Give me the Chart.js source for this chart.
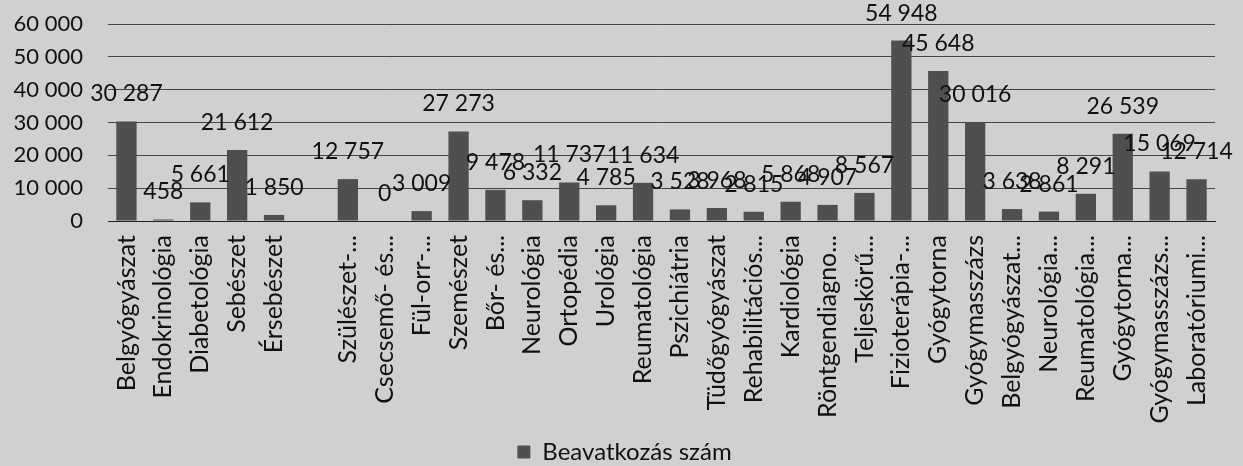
<!DOCTYPE html>
<html>
<head>
<meta charset="utf-8">
<script src="https://cdn.jsdelivr.net/npm/chart.js@4/dist/chart.umd.min.js"></script>
<style>
  html, body { margin: 0; padding: 0; background: #d0d0d0; }
  #wrap { width: 1243px; height: 466px; }
</style>
</head>
<body>
<div id="wrap"><canvas id="chart" width="1243" height="466"></canvas></div>
<script>
// kategóriák (az üres hely is egy kategória az eredetiben)
const categories = [
    "Belgyógyászat", "Endokrinológia", "Diabetológia", "Sebészet", "Érsebészet", "",
    "Szülészet-...", "Csecsemő- és...", "Fül-orr-...", "Szemészet", "Bőr- és...",
    "Neurológia", "Ortopédia", "Urológia", "Reumatológia", "Pszichiátria",
    "Tüdőgyógyászat", "Rehabilitációs...", "Kardiológia", "Röntgendiagno...", "Teljeskörű...",
    "Fizioterápia-...", "Gyógytorna", "Gyógymasszázs", "Belgyógyászat...", "Neurológia...",
    "Reumatológia...", "Gyógytorna...", "Gyógymasszázs...", "Laboratóriumi..."
];
const beavatkozasSzam = [
    30287, 458, 5661, 21612, 1850, null,
    12757, 0, 3009, 27273, 9478,
    6332, 11737, 4785, 11634, 3528,
    3968, 2815, 5868, 4907, 8567,
    54948, 45648, 30016, 3638, 2861,
    8291, 26539, 15069, 12714
];
const seriesName = "Beavatkozás szám";
const yTicks = [0, 10000, 20000, 30000, 40000, 50000, 60000];

const FONT = "Lato, 'Open Sans', sans-serif";

function formatNum(v) {
    return String(v).replace(/\B(?=(\d{3})+(?!\d))/g, " ");
}

// értékcímkék a oszlopok fölött
const valueLabels = {
    id: "valueLabels",
    afterDatasetsDraw(chart) {
        const ctx = chart.ctx;
        const meta = chart.getDatasetMeta(0);
        ctx.save();
        ctx.font = "23px " + FONT;
        ctx.fillStyle = "#111";
        ctx.textAlign = "center";
        ctx.textBaseline = "bottom";
        meta.data.forEach((bar, i) => {
            const v = beavatkozasSzam[i];
            if (v === null) return;
            ctx.fillText(formatNum(v), bar.x, bar.y - 16);
        });
        ctx.restore();
    }
};

// a jelmagyarázat kicsit jobbra van az eredetin
const legendShift = {
    id: "legendShift",
    afterLayout(chart) {
        chart.legend.left += 17;
        chart.legend.right += 17;
    }
};

const ctx = document.getElementById("chart").getContext("2d");
new Chart(ctx, {
    type: "bar",
    data: {
        labels: categories,
        datasets: [
            {
                label: seriesName,
                data: beavatkozasSzam,
                backgroundColor: "#4f4f4f",
                categoryPercentage: 1,
                barPercentage: 0.55,
            },
        ],
    },
    options: {
        responsive: false,
        animation: false,
        layout: { padding: { top: 24, left: 0, right: 28, bottom: -8 } },
        plugins: {
            legend: {
                position: "bottom",
                labels: {
                    font: { family: FONT, size: 24 },
                    color: "#111",
                    boxWidth: 13,
                    boxHeight: 13,
                    padding: 10,
                },
            },
            tooltip: { enabled: false },
        },
        scales: {
            x: {
                grid: { display: false, drawTicks: false },
                border: { color: "#222", width: 1 },
                ticks: {
                    autoSkip: false,
                    maxRotation: 90,
                    minRotation: 90,
                    padding: 14,
                    color: "#111",
                    font: { family: FONT, size: 25 },
                },
                afterFit(scale) { scale.height = 209; },
            },
            y: {
                min: 0,
                max: 60000,
                afterBuildTicks(scale) {
                    scale.ticks = yTicks.map((v) => ({ value: v }));
                },
                grid: {
                    color: "#444",
                    lineWidth: 1,
                    drawTicks: true,
                    tickLength: 25,
                    tickColor: "rgba(0,0,0,0)",
                },
                border: { display: false },
                ticks: {
                    padding: 0,
                    color: "#111",
                    font: { family: FONT, size: 22 },
                    callback: (v) => formatNum(v),
                },
                afterFit(scale) { scale.width = 108; },
            },
        },
    },
    plugins: [valueLabels, legendShift],
});
</script>
</body>
</html>
